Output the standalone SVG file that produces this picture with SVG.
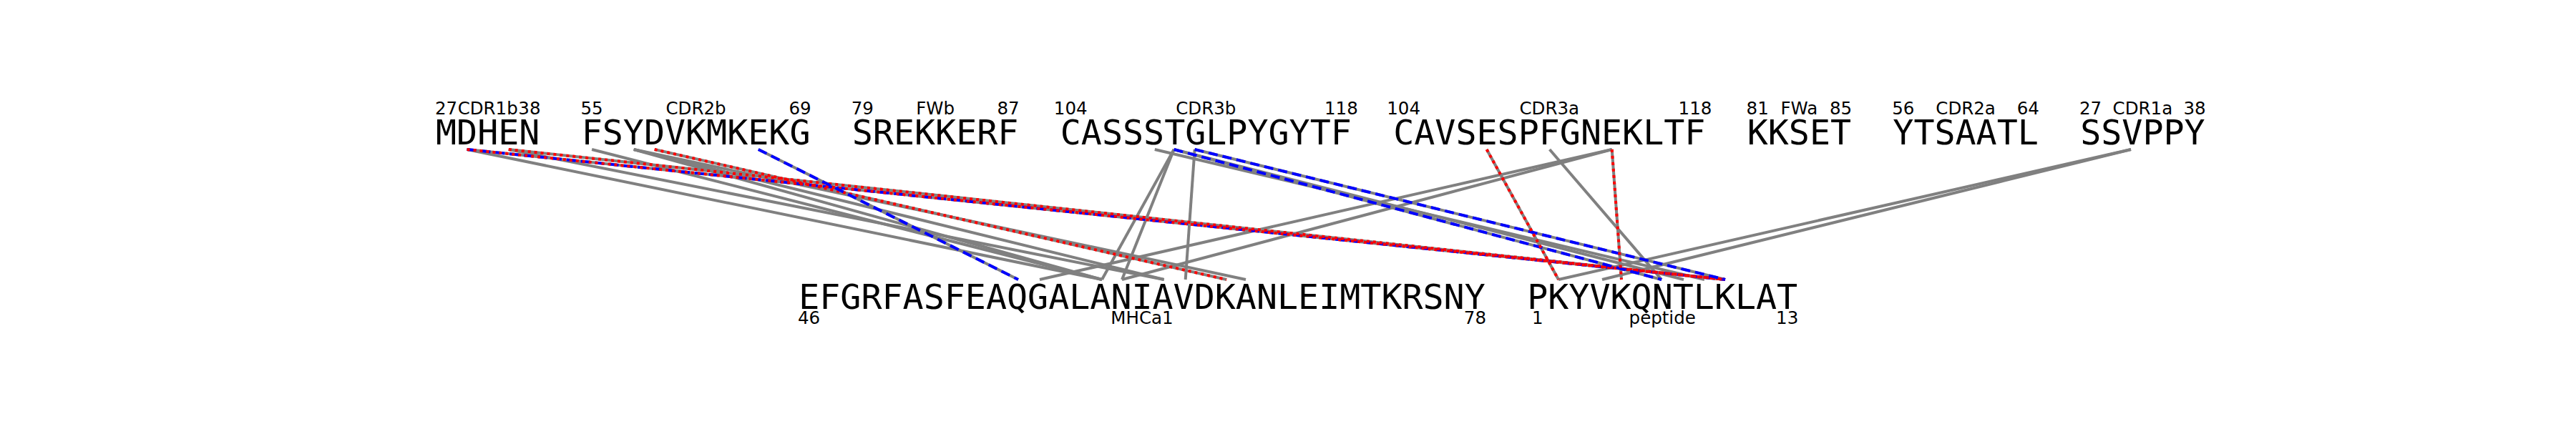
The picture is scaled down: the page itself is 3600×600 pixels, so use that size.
<svg xmlns="http://www.w3.org/2000/svg" width="3600" height="600" viewBox="0 0 3600 600">
<style>
.seq{font-family:"DejaVu Sans Mono",monospace;font-size:48.3px;fill:#000;text-anchor:middle}
.lab{font-family:"DejaVu Sans",sans-serif;font-size:24.5px;fill:#000;text-anchor:middle}
.g{stroke:#808080;stroke-width:4;fill:none}
.b{stroke:#0000ff;stroke-width:4;stroke-dasharray:13 7;fill:none}
.r{stroke:#ff0000;stroke-width:4;stroke-dasharray:4 5;fill:none}
</style>
<rect width="3600" height="600" fill="#fff"/>
<g id="connectors">
<line class="g" x1="652.6" y1="209" x2="1540" y2="391"/>
<line class="g" x1="710.8" y1="209" x2="1626.7" y2="391"/>
<line class="g" x1="827.1" y1="209" x2="1540" y2="391"/>
<line class="g" x1="885.7" y1="209" x2="1540" y2="391"/>
<line class="g" x1="885.7" y1="209" x2="1626.7" y2="391"/>
<line class="g" x1="885.7" y1="209" x2="1741" y2="391"/>
<line class="g" x1="1613.8" y1="209" x2="2382" y2="391"/>
<line class="g" x1="1640.6" y1="209" x2="2353" y2="391"/>
<line class="g" x1="1640.6" y1="209" x2="1540" y2="391"/>
<line class="g" x1="1640.6" y1="209" x2="1568" y2="391"/>
<line class="g" x1="1669.6" y1="209" x2="1656.7" y2="391"/>
<line class="g" x1="2252.7" y1="209" x2="1453" y2="391"/>
<line class="g" x1="2252.7" y1="209" x2="1568" y2="391"/>
<line class="g" x1="2165.6" y1="209" x2="2322" y2="391"/>
<line class="g" x1="2978" y1="209" x2="2178" y2="391"/>
<line class="g" x1="2978" y1="209" x2="2239" y2="391"/>
<line class="g" x1="652.6" y1="209" x2="2411" y2="391"/>
<line class="g" x1="710.8" y1="209" x2="2411" y2="391"/>
<line class="g" x1="914.7" y1="209" x2="1714" y2="391"/>
<line class="g" x1="1059.8" y1="209" x2="1423" y2="391"/>
<line class="g" x1="1640.6" y1="209" x2="2322" y2="391"/>
<line class="g" x1="1669.6" y1="209" x2="2411" y2="391"/>
<line class="g" x1="2077.7" y1="209" x2="2178" y2="391"/>
<line class="g" x1="2252.7" y1="209" x2="2266" y2="391"/>
<line class="b" x1="652.6" y1="209" x2="2411" y2="391"/>
<line class="r" x1="652.6" y1="209" x2="2411" y2="391"/>
<line class="r" x1="710.8" y1="209" x2="2411" y2="391"/>
<line class="r" x1="914.7" y1="209" x2="1714" y2="391"/>
<line class="b" x1="1059.8" y1="209" x2="1423" y2="391"/>
<line class="b" x1="1640.6" y1="209" x2="2322" y2="391"/>
<line class="b" x1="1669.6" y1="209" x2="2411" y2="391"/>
<line class="r" x1="2077.7" y1="209" x2="2178" y2="391"/>
<line class="r" x1="2252.7" y1="209" x2="2266" y2="391"/>
</g>
<g id="CDR1b"><text class="seq" x="681.7" y="202">MDHEN</text><text class="lab" x="623.5" y="160">27</text><text class="lab" x="681.7" y="160">CDR1b</text><text class="lab" x="739.9" y="160">38</text></g>
<g id="CDR2b"><text class="seq" x="972.6" y="202">FSYDVKMKEKG</text><text class="lab" x="827.1" y="160">55</text><text class="lab" x="972.6" y="160">CDR2b</text><text class="lab" x="1118" y="160">69</text></g>
<g id="FWb"><text class="seq" x="1307.1" y="202">SREKKERF</text><text class="lab" x="1205.3" y="160">79</text><text class="lab" x="1307.1" y="160">FWb</text><text class="lab" x="1409" y="160">87</text></g>
<g id="CDR3b"><text class="seq" x="1685.3" y="202">CASSSTGLPYGYTF</text><text class="lab" x="1496.2" y="160">104</text><text class="lab" x="1685.3" y="160">CDR3b</text><text class="lab" x="1874.4" y="160">118</text></g>
<g id="CDR3a"><text class="seq" x="2165.3" y="202">CAVSESPFGNEKLTF</text><text class="lab" x="1961.6" y="160">104</text><text class="lab" x="2165.3" y="160">CDR3a</text><text class="lab" x="2369" y="160">118</text></g>
<g id="FWa"><text class="seq" x="2514.4" y="202">KKSET</text><text class="lab" x="2456.2" y="160">81</text><text class="lab" x="2514.4" y="160">FWa</text><text class="lab" x="2572.5" y="160">85</text></g>
<g id="CDR2a"><text class="seq" x="2747.1" y="202">YTSAATL</text><text class="lab" x="2659.8" y="160">56</text><text class="lab" x="2747.1" y="160">CDR2a</text><text class="lab" x="2834.3" y="160">64</text></g>
<g id="CDR1a"><text class="seq" x="2994.4" y="202">SSVPPY</text><text class="lab" x="2921.6" y="160">27</text><text class="lab" x="2994.4" y="160">CDR1a</text><text class="lab" x="3067.1" y="160">38</text></g>
<g id="MHCa1"><text class="seq" x="1596" y="432">EFGRFASFEAQGALANIAVDKANLEIMTKRSNY</text><text class="lab" x="1130.5" y="453">46</text><text class="lab" x="1596" y="453">MHCa1</text><text class="lab" x="2061.4" y="453">78</text></g>
<g id="peptide"><text class="seq" x="2323.2" y="432">PKYVKQNTLKLAT</text><text class="lab" x="2148.7" y="453">1</text><text class="lab" x="2323.2" y="453">peptide</text><text class="lab" x="2497.7" y="453">13</text></g>
</svg>
